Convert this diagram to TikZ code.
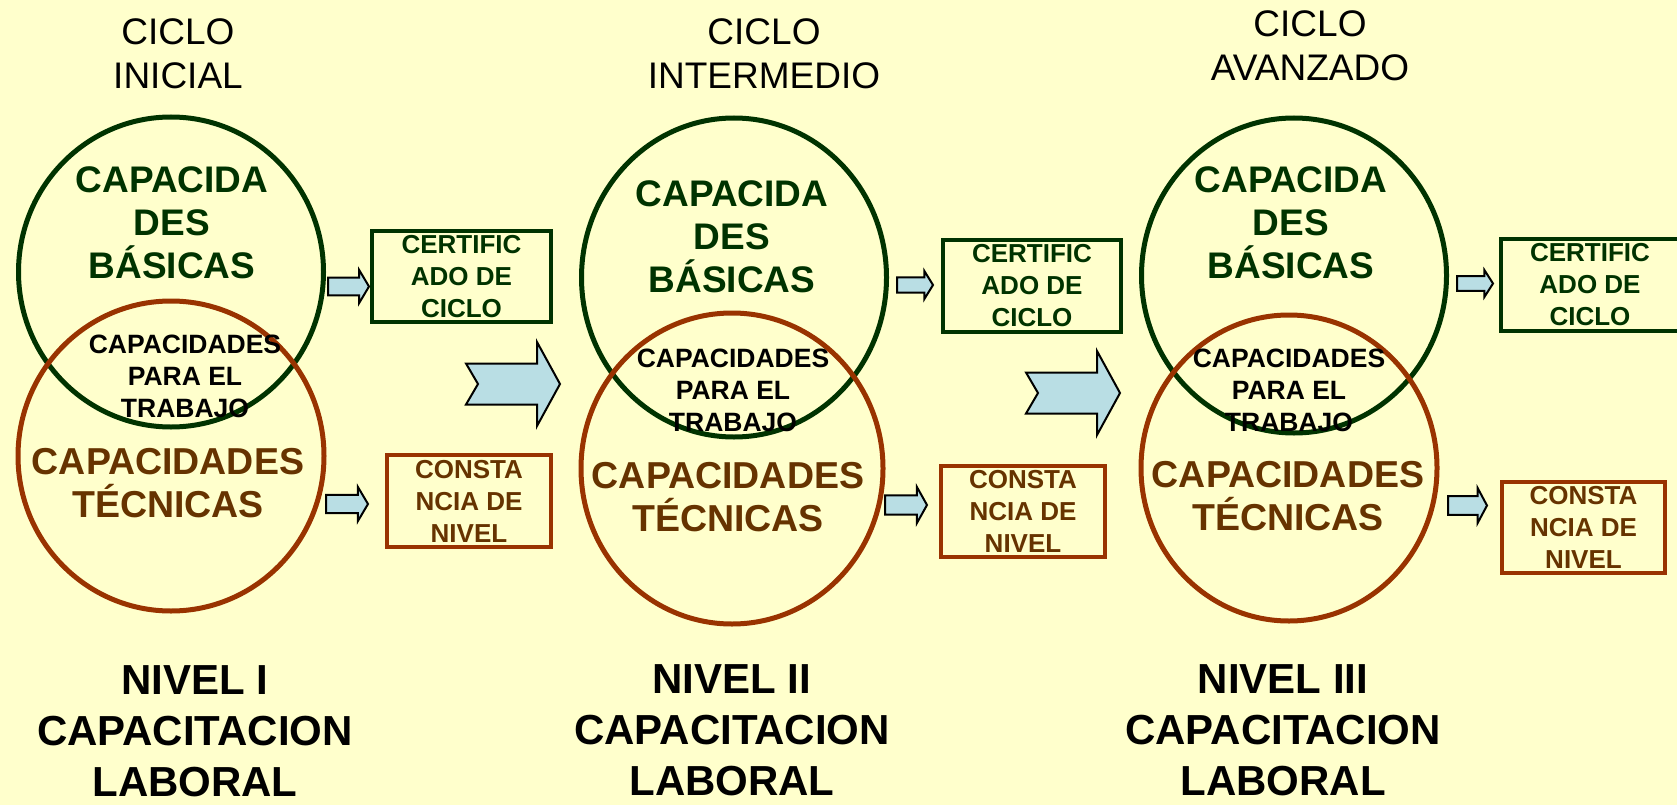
\documentclass[tikz,border=0pt]{standalone}
\usepackage{fontspec}
\setmainfont{Liberation Sans}
\usetikzlibrary{shapes.geometric}

\definecolor{fondo}{HTML}{FFFFCC}
\definecolor{verde}{HTML}{003300}
\definecolor{marron}{HTML}{993300}
\definecolor{cafe}{HTML}{663300}
\definecolor{celeste}{HTML}{B9DEE4}

\begin{document}
\begin{tikzpicture}[x=1pt,y=-1pt,
    circbas/.style={draw=verde, line width=5pt, ellipse, inner sep=0pt},
    circtec/.style={draw=marron, line width=5pt, ellipse, inner sep=0pt},
    ciclo/.style={anchor=north, inner sep=0pt, align=center, font=\fontsize{37}{44}\selectfont},
    basicas/.style={anchor=north, inner sep=0pt, align=center, text=verde, font=\bfseries\fontsize{37}{43}\selectfont},
    trabajo/.style={anchor=north, inner sep=0pt, align=center, font=\bfseries\fontsize{26.5}{32}\selectfont},
    tecnicas/.style={anchor=north, inner sep=0pt, align=center, text=cafe, font=\bfseries\fontsize{37.5}{43}\selectfont},
    nivel/.style={anchor=north, inner sep=0pt, align=center, font=\bfseries\fontsize{42}{51}\selectfont},
    certif/.style={draw=verde, line width=3.5pt, text=verde, align=center, inner sep=0pt, font=\bfseries\fontsize{26}{32}\selectfont},
    consta/.style={draw=marron, line width=3.5pt, text=cafe, align=center, inner sep=0pt, font=\bfseries\fontsize{26}{32}\selectfont},
    flecha/.style={fill=celeste, draw=black, line width=2pt, line join=miter},
    pics/flechita/.style 2 args={code={
      \draw[flecha] (0,-0.27*#2) -- (0.76*#1,-0.27*#2) -- (0.76*#1,-0.5*#2) -- (#1,0)
        -- (0.76*#1,0.5*#2) -- (0.76*#1,0.27*#2) -- (0,0.27*#2) -- cycle;}},
    pics/flechota/.style={code={
      \draw[flecha] (0,-20.5) -- (71,-20.5) -- (71,-42) -- (94,0) -- (71,42)
        -- (71,20.5) -- (0,20.5) -- (12,0) -- cycle;}}
  ]
  \fill[fondo] (0,0) rectangle (1677,805);
  \useasboundingbox (0,0) rectangle (1677,805);

  % ciclo inicial
  \node[ciclo] (CI) at (178,18.5) {CICLO\\INICIAL};
  \node[circbas, minimum width=305pt, minimum height=310pt] (G1) at (171,272) {};
  \node[circtec, minimum width=306pt, minimum height=310pt] (R1) at (171,456) {};
  \node[basicas] (B1) at (172,166.5) {CAPACIDA\\DES\\BÁSICAS};
  \node[trabajo] (T1) at (185,335) {CAPACIDADES\\PARA EL\\TRABAJO};
  \node[tecnicas] (E1) at (168,448) {CAPACIDADES\\TÉCNICAS};
  \node[certif, minimum width=179pt, minimum height=91pt] (C1) at (461.5,276.5) {CERTIFIC\\ADO DE\\CICLO};
  \node[consta, minimum width=164pt, minimum height=92pt] (K1) at (469,501) {CONSTA\\NCIA DE\\NIVEL};
  \node[nivel] (N1) at (195,665) {NIVEL I\\CAPACITACION\\LABORAL};
  \pic at (328,286.5) {flechita={41}{33}};
  \pic at (326,504) {flechita={42}{34}};
  \pic at (466,384) {flechota};

  % ciclo intermedio
  \node[ciclo] (CII) at (764,18.5) {CICLO\\INTERMEDIO};
  \node[circbas, minimum width=305pt, minimum height=319pt] (G2) at (734,277.5) {};
  \node[circtec, minimum width=302pt, minimum height=311pt] (R2) at (732,468.5) {};
  \node[basicas] (B2) at (732,180.5) {CAPACIDA\\DES\\BÁSICAS};
  \node[trabajo] (T2) at (733,349) {CAPACIDADES\\PARA EL\\TRABAJO};
  \node[tecnicas] (E2) at (728,462) {CAPACIDADES\\TÉCNICAS};
  \node[certif, minimum width=178pt, minimum height=92pt] (C2) at (1032,286) {CERTIFIC\\ADO DE\\CICLO};
  \node[consta, minimum width=164pt, minimum height=91pt] (K2) at (1023,511.5) {CONSTA\\NCIA DE\\NIVEL};
  \node[nivel] (N2) at (732,664) {NIVEL II\\CAPACITACION\\LABORAL};
  \pic at (897,285) {flechita={36}{28}};
  \pic at (885,505) {flechita={42}{36}};
  \pic at (1026,393) {flechota};

  % ciclo avanzado
  \node[ciclo] (CIII) at (1310,10.5) {CICLO\\AVANZADO};
  \node[circbas, minimum width=305pt, minimum height=315pt] (G3) at (1294,275.5) {};
  \node[circtec, minimum width=296pt, minimum height=306pt] (R3) at (1289,468) {};
  \node[basicas] (B3) at (1291,166.5) {CAPACIDA\\DES\\BÁSICAS};
  \node[trabajo] (T3) at (1289,349) {CAPACIDADES\\PARA EL\\TRABAJO};
  \node[tecnicas] (E3) at (1288,461) {CAPACIDADES\\TÉCNICAS};
  \node[certif, minimum width=178pt, minimum height=92pt] (C3) at (1590,285) {CERTIFIC\\ADO DE\\CICLO};
  \node[consta, minimum width=163pt, minimum height=91pt] (K3) at (1583.5,527.5) {CONSTA\\NCIA DE\\NIVEL};
  \node[nivel] (N3) at (1283,664) {NIVEL III\\CAPACITACION\\LABORAL};
  \pic at (1457,283.5) {flechita={36}{27}};
  \pic at (1448,505.5) {flechita={39}{35}};
\end{tikzpicture}
\end{document}
